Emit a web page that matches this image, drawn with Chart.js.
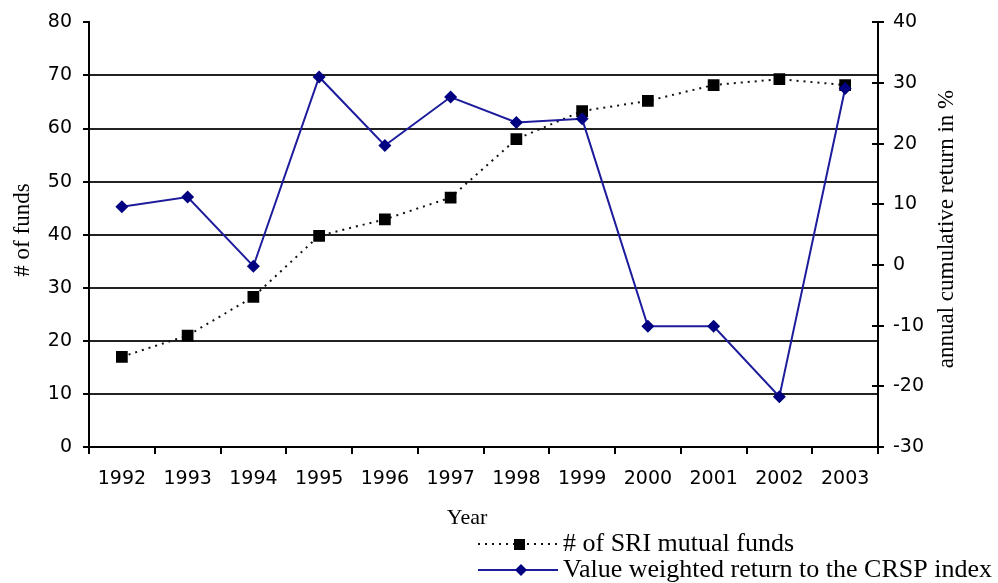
<!DOCTYPE html>
<html>
<head>
<meta charset="utf-8">
<script src="https://cdn.jsdelivr.net/npm/chart.js@4.4.0/dist/chart.umd.min.js"></script>
<style>
  html, body { margin: 0; padding: 0; background: #fff; }
  canvas { display: block; }
</style>
</head>
<body>
<canvas id="sriChart" width="998" height="583"></canvas>
<script>
  const years = ['1992', '1993', '1994', '1995', '1996', '1997', '1998', '1999', '2000', '2001', '2002', '2003'];
  const sriFunds = [17, 21, 28.3, 39.8, 42.9, 47, 58, 63.3, 65.2, 68.2, 69.3, 68.2];
  const crspReturn = [9.6, 11.2, -0.2, 31, 19.7, 27.7, 23.5, 24.1, -10.1, -10.1, -21.7, 29.1];
  const fundsLabel = '# of SRI mutual funds';
  const returnLabel = 'Value weighted return to the CRSP index';
  const xTitle = 'Year';
  const leftTitle = '# of funds';
  const rightTitle = 'annual cumulative return in %';

  const tickFont = { family: '"DejaVu Sans", sans-serif', size: 19 };
  const serif = '"Liberation Serif", "Times New Roman", serif';
  const navy = '#000080';
  const blueLine = '#1c1c9c';

  // titles, legend and the inner half of the right axis ticks are drawn by hand
  const extras = {
    id: 'extras',
    afterDraw(chart) {
      const { ctx } = chart;
      ctx.save();

      // right axis ticks cross the axis line
      const r = chart.scales.y1;
      ctx.strokeStyle = '#000';
      ctx.lineWidth = 2;
      r.ticks.forEach((t) => {
        const py = Math.round(r.getPixelForValue(t.value));
        ctx.beginPath();
        ctx.moveTo(r.left - 6, py);
        ctx.lineTo(r.left, py);
        ctx.stroke();
      });

      ctx.fillStyle = '#000';
      ctx.textBaseline = 'middle';
      ctx.textAlign = 'center';
      ctx.font = '22px ' + serif;
      ctx.fillText(xTitle, 467, 518);

      ctx.font = '23px ' + serif;
      ctx.save();
      ctx.translate(23, 230);
      ctx.rotate(-Math.PI / 2);
      ctx.fillText(leftTitle, 0, 0);
      ctx.restore();

      ctx.save();
      ctx.translate(947, 229);
      ctx.rotate(-Math.PI / 2);
      ctx.fillText(rightTitle, 0, 0);
      ctx.restore();

      // legend
      ctx.font = '26px ' + serif;
      ctx.textAlign = 'left';
      const rows = [
        { label: fundsLabel, y: 544 },
        { label: returnLabel, y: 570 }
      ];
      // row 1: dotted line with square
      ctx.strokeStyle = '#111';
      ctx.lineWidth = 2;
      ctx.setLineDash([2, 5]);
      ctx.beginPath();
      ctx.moveTo(478, rows[0].y);
      ctx.lineTo(558, rows[0].y);
      ctx.stroke();
      ctx.setLineDash([]);
      ctx.fillRect(514, rows[0].y - 5, 11, 11);
      ctx.fillText(rows[0].label, 563, rows[0].y);
      // row 2: solid navy line with diamond
      ctx.strokeStyle = blueLine;
      ctx.beginPath();
      ctx.moveTo(478, rows[1].y);
      ctx.lineTo(558, rows[1].y);
      ctx.stroke();
      ctx.fillStyle = navy;
      ctx.beginPath();
      ctx.moveTo(521 - 6, rows[1].y);
      ctx.lineTo(521, rows[1].y - 6);
      ctx.lineTo(521 + 6, rows[1].y);
      ctx.lineTo(521, rows[1].y + 6);
      ctx.closePath();
      ctx.fill();
      ctx.fillStyle = '#000';
      ctx.fillText(rows[1].label, 563, rows[1].y);
      ctx.restore();
    }
  };

  const ctx = document.getElementById('sriChart');
  const sriChart = new Chart(ctx, {
    type: 'line',
    data: {
      labels: years,
      datasets: [
        {
          label: returnLabel,
          data: crspReturn,
          yAxisID: 'y1',
          order: 0,
          borderColor: blueLine,
          borderWidth: 2,
          lineTension: 0,
          fill: false,
          pointStyle: 'rectRot',
          pointRadius: 6.5,
          pointBackgroundColor: navy,
          pointBorderColor: navy,
          pointBorderWidth: 0
        },
        {
          label: fundsLabel,
          data: sriFunds,
          yAxisID: 'y',
          order: 1,
          borderColor: '#111',
          borderWidth: 2,
          borderDash: [2, 5],
          lineTension: 0,
          fill: false,
          pointStyle: 'rect',
          pointRadius: 8.3,
          pointBackgroundColor: '#000',
          pointBorderColor: '#000',
          pointBorderWidth: 0
        }
      ]
    },
    options: {
      responsive: false,
      animation: false,
      layout: {
        padding: { top: 21, left: 0, right: 0, bottom: 56 }
      },
      plugins: {
        legend: { display: false },
        tooltip: { enabled: false }
      },
      scales: {
        x: {
          offset: true,
          afterFit: (scale) => { scale.height = 80; },
          grid: {
            offset: true,
            drawOnChartArea: false,
            tickLength: 7,
            tickColor: '#000',
            lineWidth: 2
          },
          border: { color: '#000', width: 2 },
          ticks: {
            color: '#000',
            font: tickFont,
            padding: 14,
            maxRotation: 0,
            autoSkip: false
          }
        },
        y: {
          position: 'left',
          min: 0,
          max: 80,
          afterFit: (scale) => { scale.width = 89; },
          grid: {
            color: (c) => (c.tick && c.tick.value === 80 ? 'rgba(0,0,0,0)' : '#222'),
            lineWidth: 2,
            tickLength: 6,
            tickColor: '#000'
          },
          border: { color: '#000', width: 2 },
          ticks: {
            stepSize: 10,
            color: '#000',
            font: tickFont,
            padding: 11
          }
        },
        y1: {
          position: 'right',
          min: -30,
          max: 40,
          afterFit: (scale) => { scale.width = 120; },
          grid: {
            drawOnChartArea: false,
            lineWidth: 2,
            tickLength: 6,
            color: '#000'
          },
          border: { color: '#000', width: 2 },
          ticks: {
            stepSize: 10,
            color: '#000',
            font: tickFont,
            padding: 9
          }
        }
      }
    },
    plugins: [extras]
  });
</script>
</body>
</html>
